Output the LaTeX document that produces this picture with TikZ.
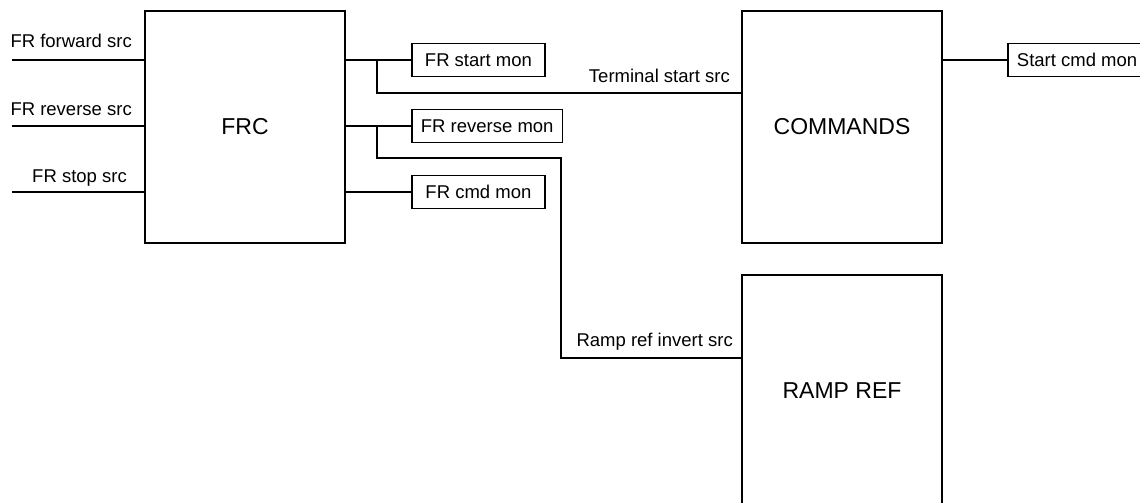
\documentclass[tikz,border=0pt]{standalone}
\usepackage{fontspec}
\setmainfont{Liberation Sans}
\usetikzlibrary{calc}
\tikzset{every node/.append style={font=\fontsize{18.5}{21}\selectfont}}
\tikzset{
  block/.style={draw, line width=1.8pt, minimum width=200pt, minimum height=232pt, font=\fontsize{23}{27}\selectfont},
  monbox/.style={draw, line width=1.8pt, minimum width=133pt, minimum height=33pt, inner xsep=9pt, anchor=west},
  wire/.style={line width=1.8pt},
  srclbl/.style={anchor=base east, inner sep=0pt}
}

\begin{document}
\begin{tikzpicture}[x=1pt, y=-1pt]
    \useasboundingbox (0,0) rectangle (1140,503);
    \clip (0,0) rectangle (1140,503);
    \node[block] (frc) at (245,127) {FRC};
    \node[block] (cmds) at (842,127) {COMMANDS};
    \node[block] (ramp) at (842,391) {RAMP REF};
    \node[monbox] (startmon) at (411,60) {FR start mon};
    \node[monbox] (revmon) at (411,126) {FR reverse mon};
    \node[monbox] (cmdmon) at (411,192) {FR cmd mon};
    \node[monbox] (startcmd) at (1007,60) {Start cmd mon};
    \coordinate (fwdin) at (12,60);
    \coordinate (revin) at (12,126);
    \coordinate (stopin) at (12,192);
    \node[srclbl] (fwdlbl) at (132,48) {FR forward src};
    \node[srclbl] (revlbl) at (132,115) {FR reverse src};
    \node[srclbl] (stoplbl) at (127,182) {FR stop src};
    \draw[wire] (fwdin) -- (frc.west |- fwdin);
    \draw[wire] (revin) -- (frc.west |- revin);
    \draw[wire] (stopin) -- (frc.west |- stopin);
    \draw[wire] (frc.east |- startmon) -- (startmon.west);
    \draw[wire] (frc.east |- revmon) -- (revmon.west);
    \draw[wire] (frc.east |- cmdmon) -- (cmdmon.west);
    \coordinate (startj) at (377,60);
    \coordinate (termbend) at (377,93);
    \draw[wire] (startj) -- (termbend) -- (cmds.west |- termbend);
    \node[srclbl] (termlbl) at (730,82) {Terminal start src};
    \coordinate (revj) at (377,126);
    \coordinate (revbend) at (377,158);
    \coordinate (rampbend) at (561,358);
    \draw[wire] (revj) -- (revbend) -| (rampbend) -- (ramp.west |- rampbend);
    \node[srclbl] (ramplbl) at (733,346) {Ramp ref invert src};
    \draw[wire] (cmds.east |- startcmd) -- (startcmd.west);
\end{tikzpicture}
\end{document}
